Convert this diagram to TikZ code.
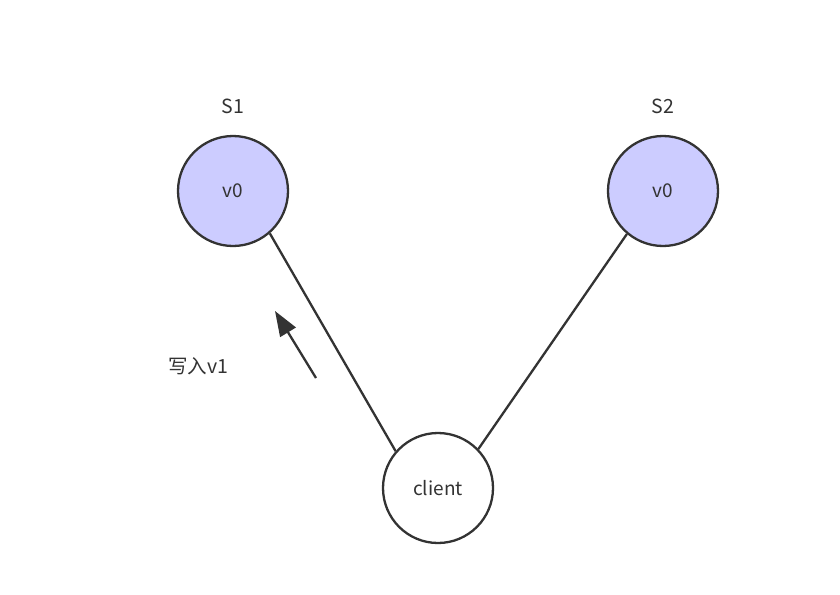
\documentclass[tikz,border=0pt]{standalone}
\usepackage{fontspec}
\setmainfont{Noto Sans CJK SC}
\usetikzlibrary{arrows.meta}
\definecolor{nodefill}{HTML}{CCCCFF}
\definecolor{edge}{HTML}{333333}
\begin{document}
\begin{tikzpicture}[x=1pt,y=-1pt,
  srv/.style={circle,draw=edge,line width=2.3pt,fill=nodefill,minimum size=110pt,inner sep=0pt,font=\fontsize{19pt}{22pt}\selectfont,text=edge},
  cli/.style={circle,draw=edge,line width=2.3pt,fill=white,minimum size=110pt,inner sep=0pt,font=\fontsize{19pt}{22pt}\selectfont,text=edge},
  lbl/.style={font=\fontsize{19.5pt}{22pt}\selectfont,text=edge,inner sep=0pt},
  conn/.style={draw=edge,line width=2.3pt}]
\useasboundingbox[fill=white] (0,0) rectangle (840,594);
\node[srv] (S1) at (233,191) {v0};
\node[srv] (S2) at (663,191) {v0};
\node[cli] (C) at (438,488) {client};
\node[lbl] (L1) at (233,106) {S1};
\node[lbl] (L2) at (663,106) {S2};
\node[lbl] (W) at (198,366) {写入v1};
\draw[conn] (S1.-49) -- (C.139);
\draw[conn] (S2.230) -- (C.44);
\coordinate (a1) at (316,378);
\coordinate (a2) at (275,311);
\draw[conn,-{Triangle[length=25pt,width=18pt]}] (a1) -- (a2);
\end{tikzpicture}
\end{document}
